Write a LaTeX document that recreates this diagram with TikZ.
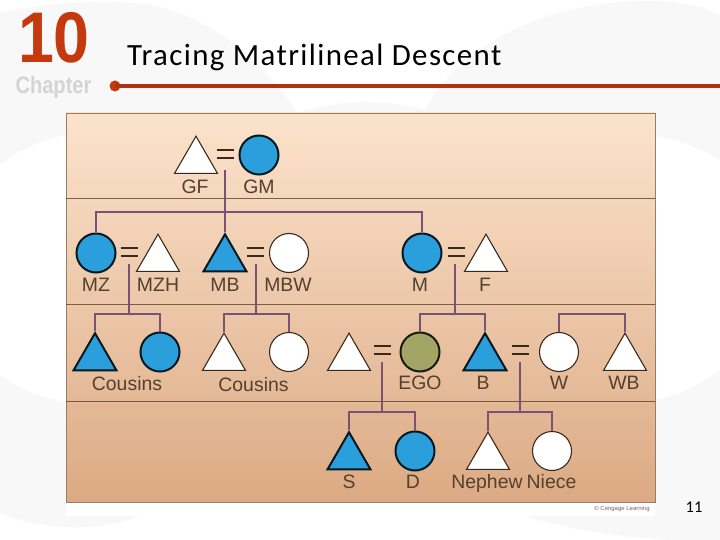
\documentclass[tikz,border=0pt]{standalone}
\usepackage{fontspec}
\setmainfont{Liberation Sans}
\newfontfamily\titlefont[LetterSpace=4.5]{Carlito}
\newfontfamily\pagefont{Carlito}
\usetikzlibrary{shapes.geometric}
\definecolor{kinblue}{HTML}{2A9FDC}
\definecolor{kinolive}{HTML}{A3A567}
\definecolor{kinline}{HTML}{7A5272}
\definecolor{kindark}{HTML}{3A2A1C}
\definecolor{kinlabel}{HTML}{54402F}
\definecolor{rust}{HTML}{C5390F}
\definecolor{swoop}{HTML}{F8F8F8}
\tikzset{
  x=1bp,y=-1bp,
  tri/.style={regular polygon,regular polygon sides=3,minimum size=49.6bp,inner sep=0pt,draw=kindark,fill=white,line width=1.1bp,line join=miter},
  cir/.style={circle,minimum size=39bp,inner sep=0pt,draw=kindark,fill=white,line width=1.1bp},
  bluep/.style={fill=kinblue,draw=black!85!kinblue,line width=2bp},
  olivep/.style={fill=kinolive,draw=black!85!kinolive,line width=2bp},
  lab/.style={font=\fontsize{19.5}{21}\selectfont,text=kinlabel,inner sep=0pt,anchor=base},
  kin/.style={draw=kinline,line width=2.1bp},
  eqbar/.style={draw=kindark,line width=2.8bp},
  divider/.style={draw=black!55!brown,line width=1bp,opacity=.75},
}
% \eqsign{x}{y}: equals sign centred at x,y
\newcommand{\eqsign}[2]{\draw[eqbar] (#1-8.5,#2-4) -- (#1+8.5,#2-4) (#1-8.5,#2+4) -- (#1+8.5,#2+4);}
\begin{document}
\begin{tikzpicture}
\useasboundingbox (0,0) rectangle (720,540);
\fill[white] (0,0) rectangle (720,540);
% background swoops
\begin{scope}
\clip (0,0) rectangle (720,540);
\fill[swoop] (0,12) .. controls (70,0) and (130,-3) .. (170,10) .. controls (230,30) and (270,70) .. (305,125) -- (66,125) -- (66,135) .. controls (40,140) and (15,152) .. (0,165) -- cycle;
\fill[swoop] (300,113) .. controls (340,98) and (390,100) .. (425,110) .. controls (450,60) and (520,10) .. (620,2) .. controls (670,-2) and (700,5) .. (720,15) -- (720,160) .. controls (700,148) and (675,138) .. (650,136) -- (300,136) -- cycle;
\fill[swoop] (0,375) .. controls (20,390) and (45,400) .. (80,405) -- (80,510) -- (150,510) .. controls (110,535) and (40,530) .. (0,513) -- cycle;
\fill[swoop] (720,370) .. controls (700,385) and (675,398) .. (640,403) -- (530,517) .. controls (570,530) and (620,537) .. (670,540) -- (720,540) -- cycle;
\end{scope}
\fill[white] (66,502) rectangle (655,516);
% chapter mark
\node[inner sep=0pt,text=rust] (chapnum) at (54,38) {\fontsize{72}{72}\selectfont\bfseries\scalebox{.9}[1]{10}};
\node[inner sep=0pt,text=black!17] (chapword) at (53.5,87) {\fontsize{24}{24}\selectfont\bfseries\scalebox{.84}[1]{Chapter}};
\node[circle,fill=rust,minimum size=11bp,inner sep=0pt] (dot) at (115,86) {};
\coordinate (ruleend) at (720,86);
\draw[rust!90!black,line width=4bp] (dot.center) -- (ruleend);
\node[inner sep=0pt,anchor=west] (title) at (127,57) {\titlefont\fontsize{31}{33}\selectfont Tracing Matrilineal Descent};
% panel
\shade[top color={rgb,255:red,252;green,227;blue,204},bottom color={rgb,255:red,220;green,170;blue,132},draw=black!45!brown!70] (66,113) rectangle (655,502);
\draw[divider] (66,199) -- (655,199);
\draw[divider] (66,304) -- (655,304);
\draw[divider] (66,401) -- (655,401);
% row 1
\node[tri] (GF) at (196,161) {};
\node[cir,bluep] (GM) at (259,155) {};
\node[lab] (lGF) at (195,194) {GF};
\node[lab] (lGM) at (259,194) {GM};
\eqsign{225}{154}
% row 2
\node[cir,bluep] (MZ) at (96,253) {};
\node[tri] (MZH) at (158,259) {};
\node[tri,bluep] (MB) at (225,259) {};
\node[cir] (MBW) at (289,253) {};
\node[cir,bluep] (M) at (422,253) {};
\node[tri] (F) at (486,259) {};
\eqsign{129}{252}
\eqsign{255}{252}
\eqsign{456}{252}
\node[lab] (lMZ) at (96,291) {MZ};
\node[lab] (lMZH) at (158,291) {MZH};
\node[lab] (lMB) at (225,291) {MB};
\node[lab] (lMBW) at (288,291) {MBW};
\node[lab] (lM) at (420,291) {M};
\node[lab] (lF) at (485,291) {F};
% row 3
\node[tri,bluep] (C1) at (95,358) {};
\node[cir,bluep] (C2) at (160,352) {};
\node[tri] (C3) at (224,358) {};
\node[cir] (C4) at (289,352) {};
\node[tri] (H) at (349,358) {};
\node[cir,olivep] (EGO) at (420,352) {};
\node[tri,bluep] (B) at (485,358) {};
\node[cir] (W) at (559,352) {};
\node[tri] (WB) at (625,358) {};
\eqsign{382}{350}
\eqsign{520}{350}
\node[lab] (lc1) at (127,390) {Cousins};
\node[lab] (lc2) at (253.5,391) {Cousins};
\node[lab] (lEGO) at (420,389) {EGO};
\node[lab] (lB) at (483,389) {B};
\node[lab] (lW) at (559,389) {W};
\node[lab] (lWB) at (624,389) {WB};
% row 4
\node[tri,bluep] (S) at (349,457) {};
\node[cir,bluep] (D) at (415,451) {};
\node[tri] (N) at (488,457) {};
\node[cir] (Ni) at (552,451) {};
\node[lab] (lS) at (349,488) {S};
\node[lab] (lD) at (413,488) {D};
\node[lab] (lN) at (487,488) {Nephew};
\node[lab] (lNi) at (551.5,488) {Niece};
% descent junctions
\coordinate (j1a) at (225,170);
\coordinate (j1) at (225,212);
\coordinate (j2a) at (129,264);
\coordinate (j2) at (129,314);
\coordinate (j3a) at (256,264);
\coordinate (j3) at (256,314);
\coordinate (j4a) at (455,264);
\coordinate (j4) at (455,314);
\coordinate (j5a) at (382,362);
\coordinate (j5) at (382,412);
\coordinate (j6a) at (520,362);
\coordinate (j6) at (520,412);
\coordinate (j7) at (592,314);
\draw[kin] (j1a) -- (j1);
\draw[kin] (MZ.north) |- (j1) -| (M.north);
\draw[kin] (j1) -- (MB.north);
\draw[kin] (j2a) -- (j2);
\draw[kin] (C1.north) |- (j2) -| (C2.north);
\draw[kin] (j3a) -- (j3);
\draw[kin] (C3.north) |- (j3) -| (C4.north);
\draw[kin] (j4a) -- (j4);
\draw[kin] (EGO.north) |- (j4) -| (B.north);
\draw[kin] (W.north) |- (j7) -| (WB.north);
\draw[kin] (j5a) -- (j5);
\draw[kin] (S.north) |- (j5) -| (D.north);
\draw[kin] (j6a) -- (j6);
\draw[kin] (N.north) |- (j6) -| (Ni.north);
% credit and page number
\node[inner sep=0pt,text=black!60] (credit) at (622,509) {\fontsize{6}{7}\selectfont © Cengage Learning};
\node[inner sep=0pt] (page) at (694,507) {\pagefont\fontsize{16.5}{17}\selectfont 11};
\end{tikzpicture}
\end{document}
